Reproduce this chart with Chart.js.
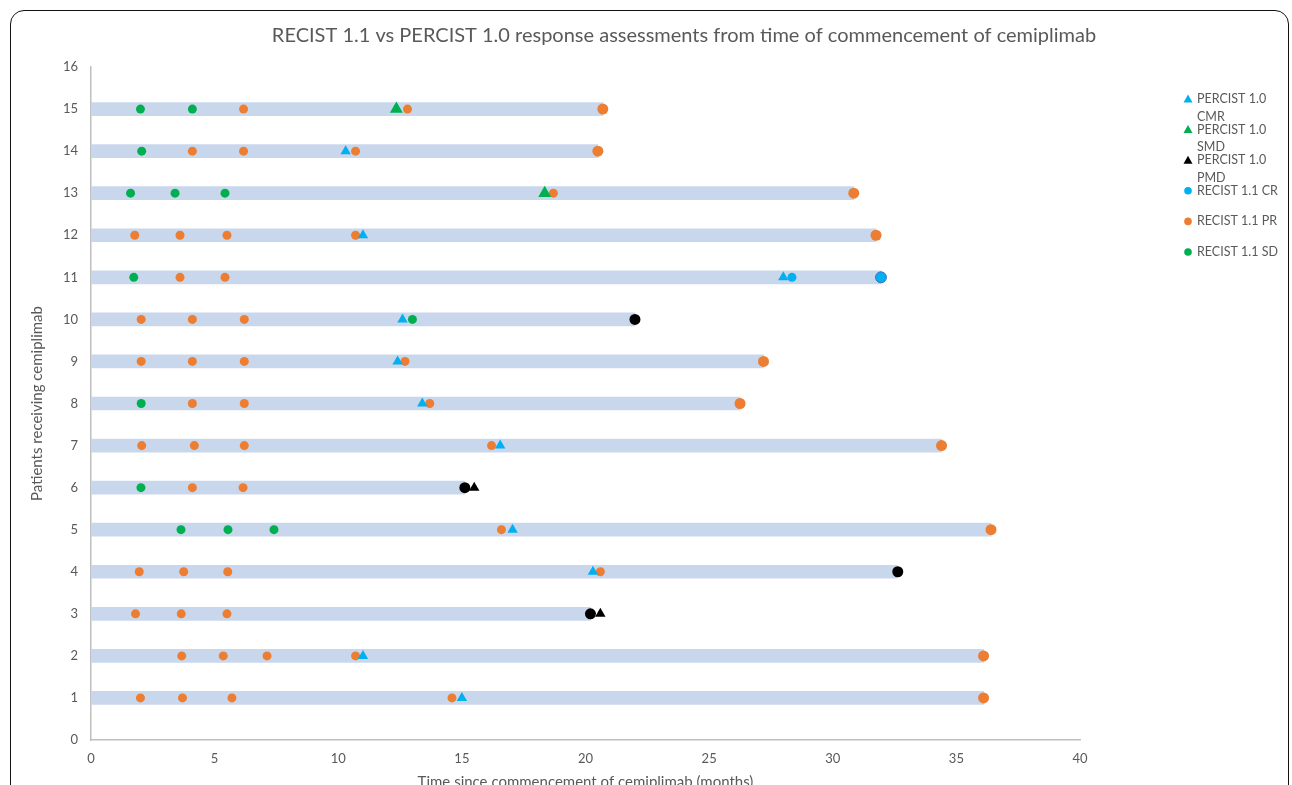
<!DOCTYPE html>
<html>
<head>
<meta charset="utf-8">
<script src="https://cdn.jsdelivr.net/npm/chart.js"></script>
<style>
  html, body { margin: 0; padding: 0; background: #fff; overflow: hidden; }
  #wrap { position: relative; width: 1292px; height: 785px; overflow: hidden; }
  #frame { position: absolute; left: 10px; top: 10px; width: 1277px; height: 820px;
           border: 1.5px solid #111; border-radius: 14px; pointer-events: none; }
</style>
</head>
<body>
<div id="wrap">
  <canvas id="grafico" width="1292" height="800"></canvas>
  <div id="frame"></div>
</div>
<script>
// patients 1..15 and the time (months) each one was followed up to
const pacientes = [1, 2, 3, 4, 5, 6, 7, 8, 9, 10, 11, 12, 13, 14, 15]
const tempoFinal = [36.1, 36.1, 20.2, 32.6, 36.4, 15.1, 34.4, 26.25, 27.2, 22.0, 31.95, 31.75, 30.85, 20.5, 20.7]

// PERCIST 1.0 assessments [months, patient]
const percistCMR = [[15.0, 1], [11.0, 2], [20.3, 4], [17.05, 5], [16.55, 7], [13.4, 8], [12.4, 9], [12.6, 10], [28.0, 11], [11.0, 12], [10.3, 14]]
const percistSMD = [[18.35, 13], [12.35, 15]]
const percistPMD = [[20.6, 3], [15.5, 6]]

// RECIST 1.1 assessments [months, patient]
const recistCR = [[28.35, 11], [31.95, 11]]
const recistPR = [
  [2.0, 1], [3.7, 1], [5.7, 1], [14.6, 1], [36.1, 1],
  [3.67, 2], [5.35, 2], [7.12, 2], [10.7, 2], [36.1, 2],
  [1.8, 3], [3.65, 3], [5.5, 3],
  [1.95, 4], [3.75, 4], [5.53, 4], [20.6, 4],
  [16.6, 5], [36.4, 5],
  [4.1, 6], [6.15, 6],
  [2.05, 7], [4.18, 7], [6.2, 7], [16.2, 7], [34.4, 7],
  [4.1, 8], [6.2, 8], [13.7, 8], [26.25, 8],
  [2.03, 9], [4.1, 9], [6.2, 9], [12.7, 9], [27.2, 9],
  [2.03, 10], [4.1, 10], [6.2, 10],
  [3.6, 11], [5.42, 11],
  [1.77, 12], [3.6, 12], [5.5, 12], [10.7, 12], [31.75, 12],
  [18.7, 13], [30.85, 13],
  [4.1, 14], [6.17, 14], [10.7, 14], [20.5, 14],
  [6.17, 15], [12.8, 15], [20.7, 15]
]
const recistSD = [
  [3.64, 5], [5.54, 5], [7.4, 5],
  [2.02, 6], [2.03, 8], [13.0, 10], [1.73, 11],
  [1.6, 13], [3.4, 13], [5.42, 13],
  [2.05, 14], [2.0, 15], [4.1, 15]
]
const recistPD = [[20.2, 3], [32.63, 4], [15.12, 6], [22.0, 10]]

const xTicks = [0, 5, 10, 15, 20, 25, 30, 35, 40]
const legendaLinhas = [['PERCIST 1.0', 'CMR'], ['PERCIST 1.0', 'SMD'], ['PERCIST 1.0', 'PMD'], ['RECIST 1.1 CR'], ['RECIST 1.1 PR'], ['RECIST 1.1 SD']]

const cinza = '#595959'
const fonte = "Lato, 'Open Sans', sans-serif"
Chart.defaults.font.family = fonte
Chart.defaults.color = cinza

const pontos = arr => arr.map(p => ({ x: p[0], y: p[1] }))
// last assessment of each patient gets a slightly bigger dot
const ehFinal = ctx => ctx.raw && Math.abs(tempoFinal[ctx.raw.y - 1] - ctx.raw.x) < 0.05

const serie = (label, data, style, color, radius) => ({
  type: 'scatter',
  label: label,
  data: pontos(data),
  pointStyle: style,
  backgroundColor: color,
  borderColor: color,
  borderWidth: 0,
  pointRadius: radius,
  order: 1
})

const datasets = [
  serie('PERCIST 1.0 CMR', percistCMR, 'triangle', '#00B0F0', 6),
  serie('PERCIST 1.0 SMD', percistSMD, 'triangle', '#00B050', 7.5),
  serie('PERCIST 1.0 PMD', percistPMD, 'triangle', '#000000', 6),
  serie('RECIST 1.1 CR', recistCR, 'circle', '#00B0F0', ctx => ehFinal(ctx) ? 5.5 : 4.5),
  serie('RECIST 1.1 PR', recistPR, 'circle', '#ED7D31', ctx => ehFinal(ctx) ? 5.5 : 4.5),
  serie('RECIST 1.1 SD', recistSD, 'circle', '#00B050', ctx => ehFinal(ctx) ? 5.5 : 4.5),
  serie('RECIST 1.1 PD', recistPD, 'circle', '#000000', 5.5)
]
datasets[3].borderColor = ctx => ehFinal(ctx) ? '#4472C4' : '#00B0F0'
datasets[3].borderWidth = ctx => ehFinal(ctx) ? 1 : 0

datasets.push({
  type: 'bar',
  label: 'follow-up',
  indexAxis: 'y',
  data: pacientes.map((p, i) => ({ x: tempoFinal[i], y: p })),
  backgroundColor: '#C9D7EC',
  barThickness: 13,
  grouped: false,
  order: 10
})

const legendaTitulo = {
  id: 'legendaTitulo',
  afterDraw(chart) {
    const c = chart.ctx
    c.save()
    c.fillStyle = cinza
    c.textBaseline = 'middle'
    c.textAlign = 'center'
    c.font = '20px ' + fonte
    c.fillText('RECIST 1.1 vs PERCIST 1.0 response assessments from time of commencement of cemiplimab', 684, 36)

    c.textAlign = 'left'
    c.font = '12.5px ' + fonte
    let y = 99
    legendaLinhas.forEach((linhas, i) => {
      const ds = datasets[i]
      c.fillStyle = ds.backgroundColor
      const mx = 1188
      if (ds.pointStyle === 'triangle') {
        c.beginPath()
        c.moveTo(mx, y - 4.5)
        c.lineTo(mx + 4.5, y + 3.5)
        c.lineTo(mx - 4.5, y + 3.5)
        c.closePath()
        c.fill()
      } else {
        c.beginPath()
        c.arc(mx, y, 3.8, 0, Math.PI * 2)
        c.fill()
      }
      c.fillStyle = cinza
      linhas.forEach((t, j) => c.fillText(t, 1197, y + j * 17.5))
      y += 30.6
    })
    c.restore()
  }
}

const ctx = document.getElementById('grafico')
const grafico = new Chart(ctx, {
  type: 'scatter',
  data: { datasets: datasets },
  options: {
    responsive: false,
    animation: false,
    devicePixelRatio: 1,
    layout: { padding: { left: 20, right: 212, top: 67, bottom: 0 } },
    plugins: {
      legend: { display: false },
      tooltip: { enabled: false }
    },
    scales: {
      x: {
        type: 'linear',
        min: 0,
        max: 40,
        afterFit: s => { s.height = 60 },
        afterBuildTicks: s => { s.ticks = xTicks.map(v => ({ value: v })) },
        grid: { display: false, drawTicks: false },
        border: { display: true, color: '#BFBFBF', width: 1.5 },
        ticks: { padding: 11, font: { size: 13 }, color: cinza },
        title: {
          display: true,
          text: 'Time since commencement of cemiplimab (months)',
          font: { size: 15 },
          color: cinza,
          padding: { top: 0, bottom: 9 }
        }
      },
      y: {
        type: 'linear',
        min: 0,
        max: 16,
        offset: false,
        afterFit: s => { s.width = 71 },
        grid: { display: false, drawTicks: false, offset: false },
        border: { display: true, color: '#BFBFBF', width: 1.5 },
        ticks: { stepSize: 1, padding: 13, font: { size: 13 }, color: cinza },
        title: {
          display: true,
          text: 'Patients receiving cemiplimab',
          font: { size: 15 },
          color: cinza,
          padding: { top: 8, bottom: 0 }
        }
      }
    }
  },
  plugins: [legendaTitulo]
})
</script>
</body>
</html>
